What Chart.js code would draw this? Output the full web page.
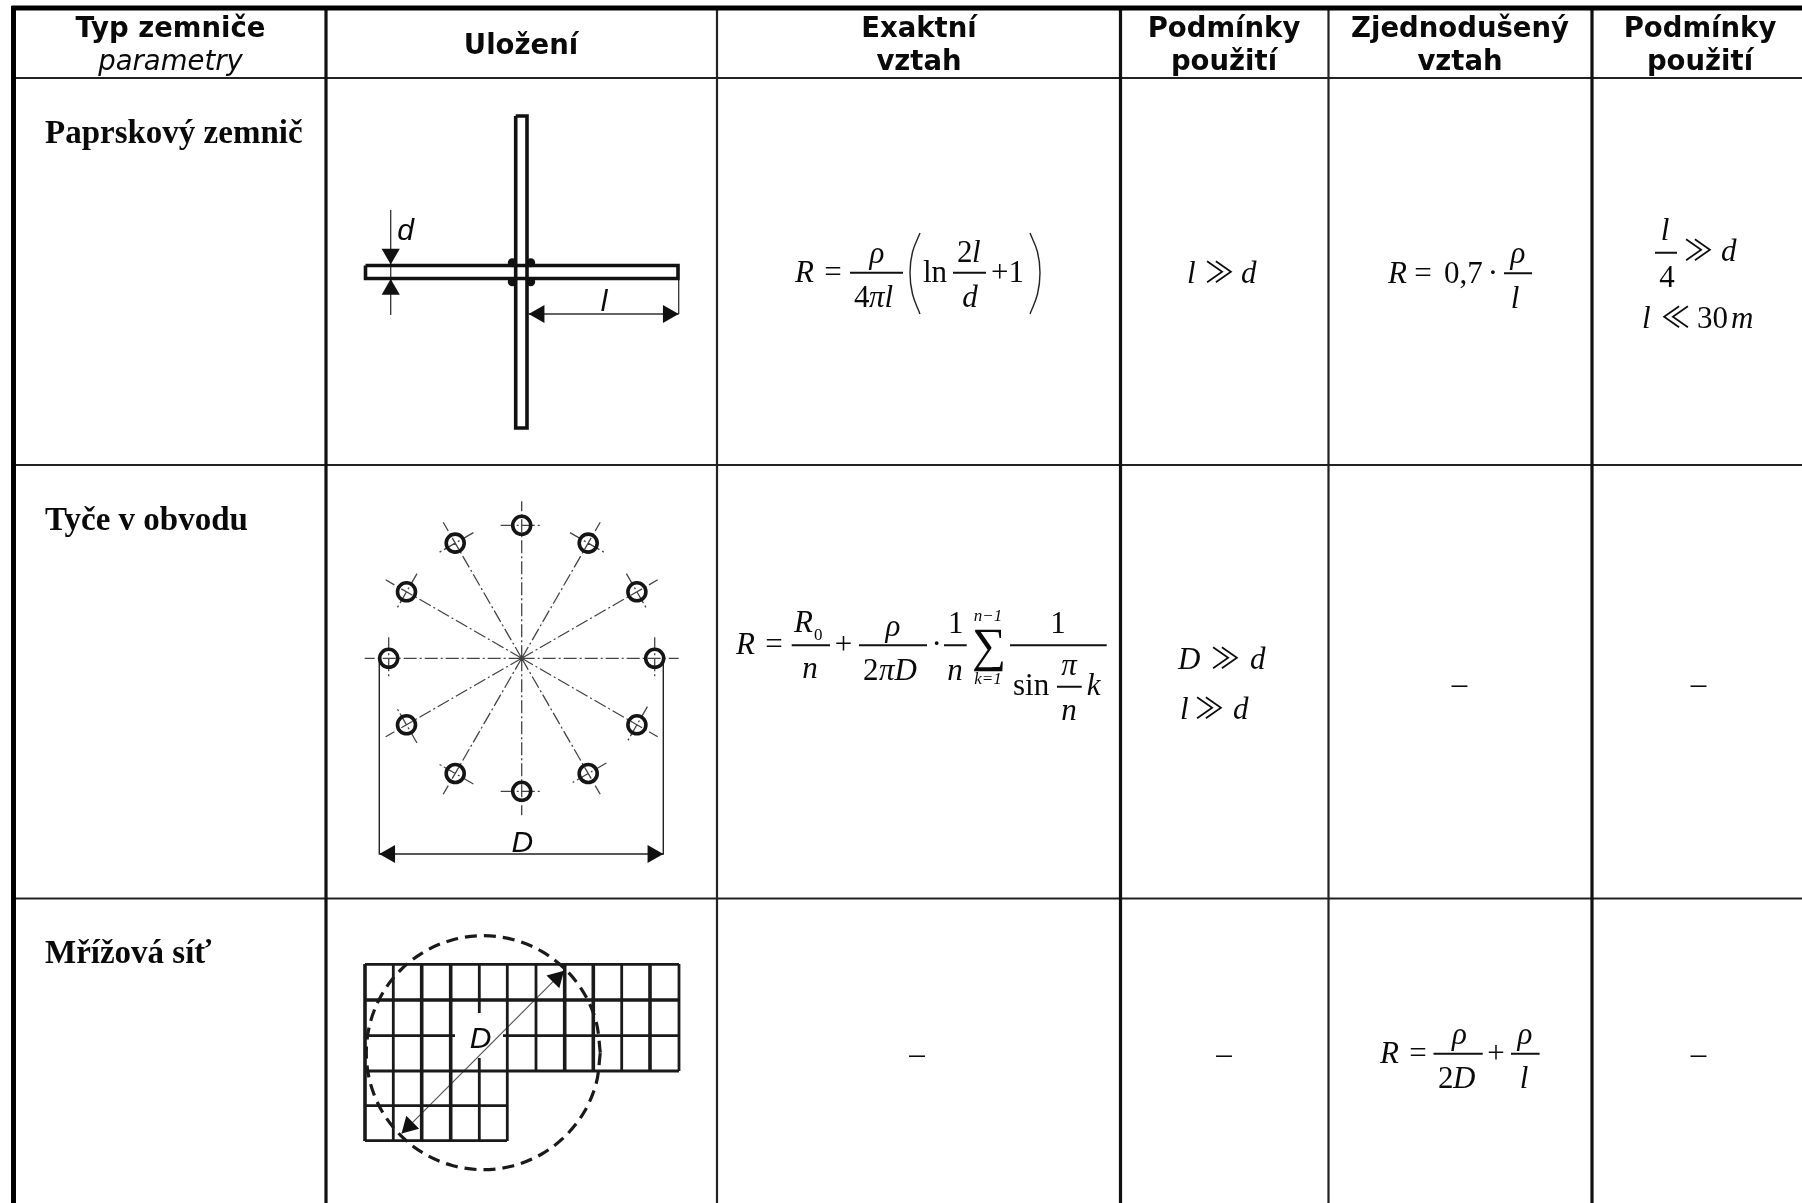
<!DOCTYPE html>
<html lang="cs">
<head>
<meta charset="utf-8">
<title>Typy zemničů</title>
<script src="https://cdn.jsdelivr.net/npm/chart.js@4"></script>
<style>
    html, body { margin: 0; padding: 0; background: #fff; }
    canvas { display: block; }
</style>
</head>
<body>
<canvas id="tabulka" width="1802" height="1203"></canvas>
<script>
// null = break in the line
const okrajTabulky = [[11.5, 8], [1802, 8], null, [13.5, 6], [13.5, 1203]];
const sloupceSilne = [[326, 8], [326, 1203], null, [1120.5, 8], [1120.5, 1203], null, [1592, 8], [1592, 1203]];
const sloupceTenke = [[717, 8], [717, 1203], null, [1328.5, 8], [1328.5, 1203]];
const radkyTabulky = [[14, 78], [1802, 78], null, [14, 465], [1802, 465], null, [14, 898.5], [1802, 898.5]];

// paprskovy zemnic
const paprsekObrys = [
    [365.5, 265.5], [678, 265.5], [678, 278.5], [365.5, 278.5], [365.5, 265.5], null,
    [515.7, 116], [527, 116], [527, 428], [515.7, 428], [515.7, 116]
];
const paprsekKoty = [
    [390.7, 210], [390.7, 315], null,
    [528.7, 314], [678.7, 314], null,
    [678.7, 280], [678.7, 314]
];
const paprsekSpoje = [[512.3, 262.7], [530.7, 262.7], [512.3, 281.7], [530.7, 281.7]];

// tyce v obvodu
const tyceStredy = [
    [521.7, 525.3], [588.2, 543.1], [636.9, 591.8], [654.7, 658.3], [636.9, 724.8], [588.2, 773.5],
    [521.7, 791.3], [455.2, 773.5], [406.5, 724.8], [388.7, 658.3], [406.5, 591.8], [455.2, 543.1]
];
const tyceOsy = [
    [521.7, 658.3], [521.7, 501.3], null, [521.7, 658.3], [600.2, 522.3], null,
    [521.7, 658.3], [657.7, 579.8], null, [521.7, 658.3], [678.7, 658.3], null,
    [521.7, 658.3], [657.7, 736.8], null, [521.7, 658.3], [600.2, 794.3], null,
    [521.7, 658.3], [521.7, 815.3], null, [521.7, 658.3], [443.2, 794.3], null,
    [521.7, 658.3], [385.7, 736.8], null, [521.7, 658.3], [364.7, 658.3], null,
    [521.7, 658.3], [385.7, 579.8], null, [521.7, 658.3], [443.2, 522.3], null,
    [500.7, 525.3], [542.7, 525.3], null, [570, 532.6], [606.4, 553.6], null,
    [626.4, 573.6], [647.4, 610], null, [654.7, 637.3], [654.7, 679.3], null,
    [647.4, 706.6], [626.4, 743], null, [606.4, 763], [570, 784], null,
    [500.7, 791.3], [542.7, 791.3], null, [473.4, 784], [437, 763], null,
    [417, 743], [396, 706.6], null, [388.7, 637.3], [388.7, 679.3], null,
    [417, 573.6], [396, 610], null, [473.4, 532.6], [437, 553.6]
];
const tyceKoty = [[379.3, 658], [379.3, 854], [663.3, 854], [663.3, 658]];

// mrizova sit
const sitTenke = [
    [393.3, 964], [393.3, 1141], null, [479.3, 964], [479.3, 1013], null, [479.3, 1058], [479.3, 1141], null,
    [507.3, 964], [507.3, 1141], null, [536, 964], [536, 1071], null, [621.7, 964], [621.7, 1071], null,
    [679, 964], [679, 1071], null,
    [365, 964.3], [679, 964.3], null, [365, 1035.7], [455, 1035.7], null, [503, 1035.7], [679, 1035.7], null,
    [365, 1071], [679, 1071], null, [365, 1105.7], [507, 1105.7], null, [365, 1140.7], [507, 1140.7]
];
const sitSilne = [
    [365, 964], [365, 1141], null, [421.7, 964], [421.7, 1141], null, [450.7, 964], [450.7, 1141], null,
    [564.7, 964], [564.7, 1071], null, [593.3, 964], [593.3, 1071], null, [650, 964], [650, 1071], null,
    [365, 1000], [679, 1000]
];
const sitKruh = [
    [600.3, 1052.7], [596.3, 1022.4], [584.6, 994.2], [566, 970], [541.8, 951.4], [513.6, 939.7],
    [483.3, 935.7], [453, 939.7], [424.8, 951.4], [400.6, 970], [382, 994.2], [370.3, 1022.4],
    [366.3, 1052.7], [370.3, 1083], [382, 1111.2], [400.6, 1135.4], [424.8, 1154], [453, 1165.7],
    [483.3, 1169.7], [513.6, 1165.7], [541.8, 1154], [566, 1135.4], [584.6, 1111.2], [596.3, 1083],
    [600.3, 1052.7]
];
const sitPrumer = [[401.7, 1133.3], [564, 970.7]];

// sipky koty a jejich natoceni
const sipky = [
    [390.7, 254], [390.7, 289.5], [539.2, 314], [668.2, 314],
    [389.8, 854], [652.8, 854], [556.6, 978.1], [409, 1126]
];
const sipkyNatoceni = [180, 0, 270, 90, 270, 90, 45, 225];

// vzorce
const zlomkoveCary = [
    [850, 272.7], [903, 272.7], null, [953, 272.7], [986, 272.7], null,
    [1504, 273.3], [1532, 273.3], null, [1655, 252.7], [1677, 252.7], null,
    [791.7, 645.3], [830, 645.3], null, [859, 645.3], [927, 645.3], null,
    [944, 645.3], [966.7, 645.3], null, [1010, 645.3], [1106.7, 645.3], null,
    [1057, 686.7], [1081.7, 686.7], null,
    [1433.5, 1053.8], [1482.7, 1053.8], null, [1511, 1053.8], [1539.6, 1053.8]
];
const zavorkaLeva = [[920, 233], [912.5, 252], [910, 272.7], [912.5, 294], [920, 314]];
const zavorkaPrava = [[1030, 233], [1037.5, 252], [1040, 272.7], [1037.5, 294], [1030, 314]];

const fHlava = 'bold 27.5px "DejaVu Sans"';
const fHlavaI = 'italic 27.5px "DejaVu Sans"';
const fNazev = 'bold 33px "Liberation Serif"';
const fKota = 'italic 30px "Liberation Sans"';
const fI = 'italic 31px "Liberation Serif", "DejaVu Serif"';
const fR = '31px "Liberation Serif", "DejaVu Serif"';
const fZnak = '29px "Noto Sans CJK SC"';
const fMaleI = 'italic 17px "Liberation Serif", "DejaVu Serif"';
const fMaleR = '17px "Liberation Serif", "DejaVu Serif"';
const fSuma = '48px "Liberation Serif", "DejaVu Serif"';

const texty = [
    ['Typ zemniče', 170.5, 37, fHlava, 'center'], ['parametry', 170.5, 70, fHlavaI, 'center'],
    ['Uložení', 521, 54, fHlava, 'center'],
    ['Exaktní', 919, 37, fHlava, 'center'], ['vztah', 919, 70, fHlava, 'center'],
    ['Podmínky', 1224, 37, fHlava, 'center'], ['použití', 1224, 70, fHlava, 'center'],
    ['Zjednodušený', 1460, 37, fHlava, 'center'], ['vztah', 1460, 70, fHlava, 'center'],
    ['Podmínky', 1700, 37, fHlava, 'center'], ['použití', 1700, 70, fHlava, 'center'],

    ['Paprskový zemnič', 45, 142.7, fNazev, 'left'],
    ['Tyče v obvodu', 45, 530, fNazev, 'left'],
    ['Mřížová síť', 45, 963, fNazev, 'left'],

    ['d', 405.7, 240, fKota, 'center'], ['l', 604, 310.7, fKota, 'center'],
    ['D', 522.3, 852, fKota, 'center'], ['D', 480.7, 1048, fKota, 'center'],

    // radek 1
    ['R', 795, 281.7, fI, 'left'], ['=', 833, 281.7, fR, 'center'],
    ['ρ', 877, 263, fI, 'center'], ['4', 854, 306.7, fR, 'left'], ['πl', 869, 306.7, fI, 'left'],
    ['ln', 923, 281.7, fR, 'left'], ['2', 957, 261.7, fR, 'left'], ['l', 972, 261.7, fI, 'left'],
    ['d', 970, 306.7, fI, 'center'], ['+1', 991, 281.7, fR, 'left'],
    ['l', 1187, 282.7, fI, 'left'], ['≫', 1205, 282.7, fZnak, 'left'], ['d', 1241, 282.7, fI, 'left'],
    ['R', 1388, 282.7, fI, 'left'], ['=', 1423, 282.7, fR, 'center'], ['0,7', 1444, 282.7, fR, 'left'],
    ['·', 1493, 282.7, fR, 'center'], ['ρ', 1518, 263, fI, 'center'], ['l', 1515, 308, fI, 'center'],
    ['l', 1665, 240, fI, 'center'], ['4', 1667, 286.7, fR, 'center'], ['≫', 1684, 260.7, fZnak, 'left'], ['d', 1721, 260.7, fI, 'left'],
    ['l', 1642, 328, fI, 'left'], ['≪', 1661, 328, fZnak, 'left'], ['30', 1697, 328, fR, 'left'], ['m', 1731, 328, fI, 'left'],

    // radek 2
    ['R', 736, 654, fI, 'left'], ['=', 774, 654, fR, 'center'],
    ['R', 794, 631.7, fI, 'left'], ['0', 814, 640, fMaleR, 'left'], ['n', 810, 678.3, fI, 'center'],
    ['+', 843.5, 654, fR, 'center'], ['ρ', 893, 636, fI, 'center'], ['2', 863, 680, fR, 'left'], ['πD', 879, 680, fI, 'left'],
    ['·', 936.7, 654, fR, 'center'], ['1', 955.7, 632.7, fR, 'center'], ['n', 955, 680, fI, 'center'],
    ['∑', 989, 661, fSuma, 'center'], ['n−1', 988, 620.7, fMaleI, 'center'], ['k=1', 988, 684, fMaleI, 'center'],
    ['1', 1058, 633, fR, 'center'], ['sin', 1013, 695, fR, 'left'], ['π', 1069, 675, fI, 'center'],
    ['n', 1069, 720, fI, 'center'], ['k', 1086.7, 695, fI, 'left'],
    ['D', 1178, 669, fI, 'left'], ['≫', 1211, 669, fZnak, 'left'], ['d', 1250, 669, fI, 'left'],
    ['l', 1180, 718.5, fI, 'left'], ['≫', 1195, 718.5, fZnak, 'left'], ['d', 1233, 718.5, fI, 'left'],
    ['–', 1459.5, 694, fR, 'center'], ['–', 1698.5, 694, fR, 'center'],

    // radek 3
    ['–', 917, 1064, fR, 'center'], ['–', 1224, 1064, fR, 'center'], ['–', 1698.5, 1064, fR, 'center'],
    ['R', 1380, 1062.7, fI, 'left'], ['=', 1418, 1062.7, fR, 'center'],
    ['ρ', 1459.5, 1044, fI, 'center'], ['2', 1438, 1087.7, fR, 'left'], ['D', 1453, 1087.7, fI, 'left'],
    ['+', 1496, 1062.7, fR, 'center'], ['ρ', 1525, 1044, fI, 'center'], ['l', 1524, 1087.7, fI, 'center']
];

function body(seznam) {
    return seznam.map(b => b ? { x: b[0], y: b[1] } : { x: null, y: null });
}

function cara(seznam, sirka, barva, navic) {
    return Object.assign({
        data: body(seznam),
        showLine: true,
        borderColor: barva,
        borderWidth: sirka,
        pointRadius: 0
    }, navic || {});
}

const popisky = {
    id: 'popisky',
    afterDatasetsDraw(chart) {
        const ctx = chart.ctx;
        ctx.save();
        ctx.fillStyle = '#0a0a0a';
        ctx.textBaseline = 'alphabetic';
        for (let t of texty) {
            ctx.font = t[3];
            ctx.textAlign = t[4];
            ctx.fillText(t[0], chart.scales.x.getPixelForValue(t[1]), chart.scales.y.getPixelForValue(t[2]));
        }
        ctx.restore();
    }
};

new Chart(document.getElementById('tabulka'), {
    type: 'scatter',
    data: {
        datasets: [
            {
                data: body(sipky),
                pointStyle: 'triangle',
                pointRadius: 10.5,
                pointRotation: sipkyNatoceni,
                pointBackgroundColor: '#111',
                pointBorderWidth: 0
            },
            {
                data: body(tyceStredy),
                pointStyle: 'circle',
                pointRadius: 9,
                pointBackgroundColor: 'rgba(0,0,0,0)',
                pointBorderColor: '#151515',
                pointBorderWidth: 3.6
            },
            {
                data: body(paprsekSpoje),
                pointStyle: 'circle',
                pointRadius: 4.5,
                pointBackgroundColor: '#111',
                pointBorderWidth: 0
            },
            cara(okrajTabulky, 5, '#000'),
            cara(sloupceSilne, 3.2, '#111'),
            cara(sloupceTenke, 2.2, '#222'),
            cara(radkyTabulky, 2.2, '#222'),
            cara(paprsekObrys, 3.6, '#111'),
            cara(paprsekKoty, 1.3, '#333'),
            cara(tyceOsy, 1.3, '#444', { borderDash: [13, 3, 2, 3] }),
            cara(tyceKoty, 1.4, '#222'),
            cara(sitTenke, 2.8, '#1a1a1a'),
            cara(sitSilne, 3.6, '#1a1a1a'),
            cara(sitKruh, 3.2, '#1a1a1a', { tension: 0.337, borderDash: [12, 7] }),
            cara(sitPrumer, 1.2, '#555'),
            cara(zlomkoveCary, 2, '#111'),
            cara(zavorkaLeva, 1.4, '#222', { tension: 0.4 }),
            cara(zavorkaPrava, 1.4, '#222', { tension: 0.4 })
        ]
    },
    options: {
        responsive: false,
        animation: false,
        events: [],
        layout: { padding: 0, autoPadding: false },
        plugins: { legend: { display: false }, tooltip: { enabled: false }, title: { display: false } },
        scales: {
            x: { type: 'linear', display: false, min: 0, max: 1802 },
            y: { type: 'linear', display: false, min: 0, max: 1203, reverse: true }
        }
    },
    plugins: [popisky]
});
</script>
</body>
</html>
